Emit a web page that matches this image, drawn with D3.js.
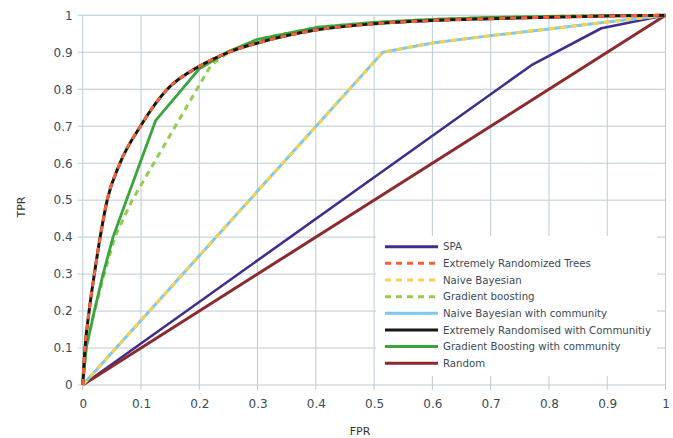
<!DOCTYPE html>
<html><head><meta charset="utf-8">
<script src="https://cdn.jsdelivr.net/npm/d3@7"></script>
<style>body{margin:0;background:#fff;}svg{display:block;}</style>
</head><body>
<svg id="c" width="673" height="438"></svg>
<script>
const xTicks = [0,0.1,0.2,0.3,0.4,0.5,0.6,0.7,0.8,0.9,1];
const yTicks = [0,0.1,0.2,0.3,0.4,0.5,0.6,0.7,0.8,0.9,1];
const xTickLabels = ["0","0.1","0.2","0.3","0.4","0.5","0.6","0.7","0.8","0.9","1"];
const yTickLabels = ["0","0.1","0.2","0.3","0.4","0.5","0.6","0.7","0.8","0.9","1"];

const spa = [[0,0],[0.77,0.865],[0.89,0.965],[1,1]];
const random = [[0,0],[1,1]];
const naiveBayes = [[0,0],[0.515,0.9],[0.6,0.925],[0.7,0.945],[0.8,0.963],[0.9,0.982],[1,1]];
const naiveBayesComm = [[0,0],[0.515,0.9],[0.6,0.925],[0.7,0.945],[0.8,0.963],[0.9,0.982],[1,1]];
const extraTrees = [[0,0],[0.004,0.1],[0.011,0.2],[0.02,0.3],[0.03,0.4],[0.042,0.5],[0.064,0.6],[0.099,0.7],[0.145,0.8],[0.2,0.862],[0.25,0.9],[0.3,0.925],[0.4,0.96],[0.5,0.977],[0.6,0.986],[0.7,0.991],[0.8,0.995],[0.9,0.998],[1,1]];
const extraTreesComm = [[0,0],[0.004,0.1],[0.011,0.2],[0.02,0.3],[0.03,0.4],[0.042,0.5],[0.064,0.6],[0.099,0.7],[0.145,0.8],[0.2,0.862],[0.25,0.9],[0.3,0.925],[0.4,0.96],[0.5,0.977],[0.6,0.986],[0.7,0.991],[0.8,0.995],[0.9,0.998],[1,1]];
const gradBoost = [[0,0],[0.006,0.1],[0.02,0.2],[0.037,0.3],[0.055,0.4],[0.085,0.5],[0.22,0.865],[0.25,0.9],[0.3,0.935],[0.4,0.967],[0.5,0.981],[0.6,0.989],[0.7,0.994],[0.8,0.997],[0.9,0.999],[1,1]];
const gradBoostComm = [[0,0],[0.006,0.1],[0.02,0.2],[0.035,0.3],[0.052,0.4],[0.075,0.5],[0.125,0.715],[0.2,0.855],[0.25,0.902],[0.3,0.935],[0.4,0.967],[0.5,0.981],[0.6,0.989],[0.7,0.994],[0.8,0.997],[0.9,0.999],[1,1]];

const seriesNames = ["SPA","Extremely Randomized Trees","Naive Bayesian","Gradient boosting","Naive Bayesian with community","Extremely Randomised with Communitiy","Gradient Boosting with community","Random"];

const svg = d3.select("#c");
const x = d3.scaleLinear().domain([0,1]).range([82.7,665.5]);
const y = d3.scaleLinear().domain([0,1]).range([385,15.3]);
const gridCol = "#bccbd6";
const txtCol = "#3b4a58";
const font = "DejaVu Sans, sans-serif";

// grid
svg.append("g").selectAll("line.v").data(xTicks).join("line")
  .attr("x1",d=>x(d)).attr("x2",d=>x(d)).attr("y1",y(1)).attr("y2",y(0)+5)
  .attr("stroke",gridCol).attr("stroke-width",1);
svg.append("g").selectAll("line.h").data(yTicks).join("line")
  .attr("x1",x(0)-5).attr("x2",x(1)).attr("y1",d=>y(d)).attr("y2",d=>y(d))
  .attr("stroke",gridCol).attr("stroke-width",1);

const xAxis = d3.axisBottom(x).tickValues(xTicks).tickFormat((d,i)=>xTickLabels[i]).tickSize(0).tickPadding(14);
const gx = svg.append("g").attr("transform",`translate(0,${y(0)})`).call(xAxis);
gx.select(".domain").remove();
gx.selectAll("text").attr("font-family",font).attr("font-size",12).attr("fill",txtCol);
const yAxis = d3.axisLeft(y).tickValues(yTicks).tickFormat((d,i)=>yTickLabels[i]).tickSize(0).tickPadding(10);
const gy = svg.append("g").attr("transform",`translate(${x(0)},0)`).call(yAxis);
gy.select(".domain").remove();
gy.selectAll("text").attr("font-family",font).attr("font-size",12).attr("fill",txtCol);

svg.append("text").attr("x",360).attr("y",435).attr("font-family",font).attr("font-size",11)
  .attr("fill","#333").attr("text-anchor","middle").text("FPR");
svg.append("text").attr("transform","translate(25,207) rotate(-90)").attr("font-family",font).attr("font-size",11)
  .attr("fill","#333").attr("text-anchor","middle").text("TPR");

const line = d3.line().x(d=>x(d[0])).y(d=>y(d[1]));
const smooth = d3.line().x(d=>x(d[0])).y(d=>y(d[1])).curve(d3.curveMonotoneX);
const plot = svg.append("g").attr("fill","none").attr("stroke-linejoin","round");
function draw(data,color,w,dash,gen){
  const p = plot.append("path").datum(data).attr("d",(gen||line)).attr("stroke",color).attr("stroke-width",w);
  if(dash) p.attr("stroke-dasharray",dash);
}
draw(spa,"#3f2f8c",2.6);
draw(random,"#8c2a2e",3);
draw(naiveBayesComm,"#7cc8ee",3);
draw(naiveBayes,"#f6d24c",3,"6,5");
draw(gradBoost,"#93cc4f",3,"6,5");
draw(gradBoostComm,"#3aa43e",2.8);
draw(extraTreesComm,"#141a14",3,null,smooth);
draw(extraTrees,"#f4603a",3,"6,5",smooth);

// legend
const lg = svg.append("g");
lg.append("rect").attr("x",376).attr("y",236).attr("width",281).attr("height",140).attr("fill","#fff");
const legendStyles = [
  ["#3f2f8c",3,null],
  ["#f4603a",3,"6,5"],
  ["#f6d24c",3,"6,5"],
  ["#93cc4f",3,"6,5"],
  ["#7cc8ee",3,null],
  ["#141a14",3,null],
  ["#3aa43e",3,null],
  ["#8c2a2e",3,null]
];
seriesNames.forEach((n,i)=>{
  const yy = 246.7 + i*16.65;
  const s = legendStyles[i];
  const l = lg.append("line").attr("x1",385).attr("x2",438).attr("y1",yy).attr("y2",yy)
    .attr("stroke",s[0]).attr("stroke-width",s[1]);
  if(s[2]) l.attr("stroke-dasharray",s[2]);
  lg.append("text").attr("x",443).attr("y",yy+3.6).attr("font-family",font).attr("font-size",10.2)
    .attr("fill",txtCol).text(n);
});
</script>
</body></html>
